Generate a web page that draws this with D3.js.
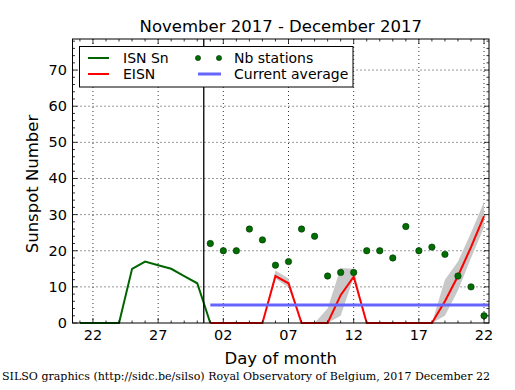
<!DOCTYPE html>
<html><head><meta charset="utf-8">
<script src="https://cdn.jsdelivr.net/npm/d3@7"></script>
<style>body{margin:0;background:#fff}svg{display:block}</style>
</head><body>
<script>
// Day index: Nov d = d, Dec d = 30 + d
const isnDays = [21,22,23,24,25,26,27,28,29,30,31];
const isnValues = [0,0,0,0,15,17,16,15,13,11,0];

const decDays = [31,32,33,34,35,36,37,38,39,40,41,42,43,44,45,46,47,48,49,50,51,52];
const eisnValues = [0,0,0,0,0,13,11,0,0,0,7.7,12.8,0,0,0,0,0,0,6,13,21,29.6];
const bandLo =     [0,0,0,0,0,12.3,9.8,0,0,0,2,12.6,0,0,0,0,0,0,2,9,18,26.5];
const bandHi =     [0,0,0,0,0,14.5,12.3,0,0,4,15.2,15,0,0,0,0,0,0,12,17,25,33.5];
const stations =   [22,20,20,26,23,16,17,26,24,13,14,14,20,20,18,26.7,20,21,19,13,10,2];
const currentAverage = 5;
const monthBoundary = 30.5;

const xTickValues = [22,27,32,37,42,47,52];
const xTickLabels = ["22","27","02","07","12","17","22"];
const yTickValues = [0,10,20,30,40,50,60,70];

const W = 515, H = 390;
const L = 72.5, R = 489, T = 39, B = 323;
const svg = d3.select("body").append("svg").attr("width", W).attr("height", H)
  .style("font-family", "'DejaVu Sans', sans-serif");

const x = d3.scaleLinear().domain([20.43, 52.38]).range([L, R]);
const y = d3.scaleLinear().domain([0, 78.6]).range([B, T]);

// grid
const g = svg.append("g");
g.selectAll(".gx").data(xTickValues).enter().append("line")
  .attr("x1", d => x(d)).attr("x2", d => x(d)).attr("y1", T).attr("y2", B)
  .attr("stroke", "#000").attr("stroke-width", 0.8).attr("stroke-dasharray", "1,3");
g.selectAll(".gy").data(yTickValues.filter(v => v > 0)).enter().append("line")
  .attr("x1", L).attr("x2", R).attr("y1", d => y(d)).attr("y2", d => y(d))
  .attr("stroke", "#000").attr("stroke-width", 0.8).attr("stroke-dasharray", "1,3");

// band
const bandData = decDays.map((d, i) => ({d, lo: bandLo[i], hi: bandHi[i]}));
svg.append("path").datum(bandData)
  .attr("d", d3.area().x(p => x(p.d)).y0(p => y(p.lo)).y1(p => y(p.hi)))
  .attr("fill", "#c8c8c8").attr("stroke", "none");

// ISN line
svg.append("path").datum(isnDays.map((d, i) => [d, isnValues[i]]))
  .attr("d", d3.line().x(p => x(p[0])).y(p => y(p[1])))
  .attr("fill", "none").attr("stroke", "#006400").attr("stroke-width", 2);

// EISN line
svg.append("path").datum(decDays.map((d, i) => [d, eisnValues[i]]))
  .attr("d", d3.line().x(p => x(p[0])).y(p => y(p[1])))
  .attr("fill", "none").attr("stroke", "#ff0000").attr("stroke-width", 2);

// current average
svg.append("line").attr("x1", x(31)).attr("x2", R)
  .attr("y1", y(currentAverage)).attr("y2", y(currentAverage))
  .attr("stroke", "#6666ff").attr("stroke-width", 3);

// month boundary
svg.append("line").attr("x1", x(monthBoundary)).attr("x2", x(monthBoundary))
  .attr("y1", T).attr("y2", B).attr("stroke", "#000").attr("stroke-width", 1.3);

// stations
svg.selectAll(".st").data(decDays.map((d, i) => [d, stations[i]])).enter().append("circle")
  .attr("cx", p => x(p[0])).attr("cy", p => y(p[1])).attr("r", 3.2)
  .attr("fill", "#006e00").attr("stroke", "#003000").attr("stroke-width", 0.6);

// frame
svg.append("rect").attr("x", L).attr("y", T).attr("width", R - L).attr("height", B - T)
  .attr("fill", "none").attr("stroke", "#000").attr("stroke-width", 1);

// ticks
const minorX = d3.range(21, 53);
const minorY = d3.range(0, 79, 2);
const tk = svg.append("g").attr("stroke", "#000").attr("stroke-width", 0.8);
minorX.forEach(d => {
  const len = xTickValues.includes(d) ? 5 : 2.5;
  tk.append("line").attr("x1", x(d)).attr("x2", x(d)).attr("y1", B).attr("y2", B - len);
  tk.append("line").attr("x1", x(d)).attr("x2", x(d)).attr("y1", T).attr("y2", T + len);
});
minorY.forEach(v => {
  const len = yTickValues.includes(v) ? 5 : 2.5;
  tk.append("line").attr("x1", L).attr("x2", L + len).attr("y1", y(v)).attr("y2", y(v));
  tk.append("line").attr("x1", R).attr("x2", R - len).attr("y1", y(v)).attr("y2", y(v));
});

// tick labels
svg.selectAll(".xl").data(xTickValues).enter().append("text")
  .attr("x", d => x(d)).attr("y", 340).attr("text-anchor", "middle")
  .attr("font-size", 14.5).text((d, i) => xTickLabels[i]);
svg.selectAll(".yl").data(yTickValues).enter().append("text")
  .attr("x", 67).attr("y", d => y(d) + 5).attr("text-anchor", "end")
  .attr("font-size", 14.5).text(d => d);

// axis titles
svg.append("text").attr("x", (L + R) / 2).attr("y", 364).attr("text-anchor", "middle")
  .attr("font-size", 16.5).text("Day of month");
svg.append("text").attr("transform", `translate(38,${(T + B) / 2 + 3}) rotate(-90)`)
  .attr("text-anchor", "middle").attr("font-size", 16.5).text("Sunspot Number");
svg.append("text").attr("x", (L + R) / 2).attr("y", 32).attr("text-anchor", "middle")
  .attr("font-size", 16.5).text("November 2017 - December 2017");

// footer
svg.append("text").attr("x", 2).attr("y", 380)
  .style("font-family", "'DejaVu Serif', serif").attr("font-size", 11.5)
  .attr("textLength", 488).attr("lengthAdjust", "spacingAndGlyphs")
  .text("SILSO graphics (http://sidc.be/silso) Royal Observatory of Belgium, 2017 December 22");

// legend
const lg = svg.append("g");
lg.append("rect").attr("x", 79.5).attr("y", 46.5).attr("width", 273.5).attr("height", 40.5)
  .attr("fill", "#fff").attr("stroke", "#000").attr("stroke-width", 1);
const r1 = 58, r2 = 74;
lg.append("line").attr("x1", 88).attr("x2", 109).attr("y1", r1).attr("y2", r1)
  .attr("stroke", "#006400").attr("stroke-width", 2);
lg.append("line").attr("x1", 88).attr("x2", 109).attr("y1", r2).attr("y2", r2)
  .attr("stroke", "#ff0000").attr("stroke-width", 2);
[198, 219].forEach(cx => lg.append("circle").attr("cx", cx).attr("cy", r1).attr("r", 2.6)
  .attr("fill", "#006e00").attr("stroke", "#003000").attr("stroke-width", 0.6));
lg.append("line").attr("x1", 198).attr("x2", 221).attr("y1", r2).attr("y2", r2)
  .attr("stroke", "#6666ff").attr("stroke-width", 3);
const legendLabels = [["ISN Sn", 123, r1], ["EISN", 123, r2], ["Nb stations", 234, r1], ["Current average", 234, r2]];
legendLabels.forEach(([t, lx, ly]) => lg.append("text").attr("x", lx).attr("y", ly + 5)
  .attr("font-size", 14).text(t));
</script>
</body></html>
